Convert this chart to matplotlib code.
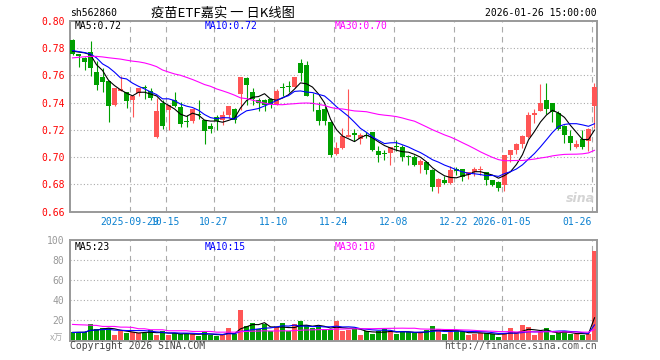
import numpy as np
import pandas as pd
import matplotlib
matplotlib.use('Agg')
import matplotlib.pyplot as plt

# daily OHLC, 2025-09-15 .. 2026-01-26 (88 sessions)
opens = [0.786, 0.7756, 0.7731, 0.7773, 0.7624, 0.7589, 0.7557, 0.7383, 0.7486, 0.7479,
         0.7423, 0.7472, 0.7512, 0.7486, 0.7148, 0.7398, 0.7349, 0.742, 0.7369, 0.7262,
         0.7268, 0.7317, 0.7273, 0.7231, 0.7293, 0.7271, 0.7312, 0.7354, 0.7464, 0.7582,
         0.7479, 0.7422, 0.7422, 0.743, 0.7383, 0.7514, 0.7521, 0.7513, 0.7692, 0.7673,
         0.7392, 0.7347, 0.7354, 0.7258, 0.7023, 0.7067, 0.7148, 0.7177, 0.7133, 0.7161,
         0.7182, 0.7045, 0.7026, 0.7033, 0.708, 0.7074, 0.7002, 0.6999, 0.694, 0.6964,
         0.6908, 0.678, 0.6833, 0.681, 0.6913, 0.6913, 0.6871, 0.6893, 0.6907, 0.6888,
         0.6832, 0.6815, 0.6797, 0.7018, 0.7055, 0.7097, 0.7145, 0.7312, 0.7342, 0.7422,
         0.7398, 0.7324, 0.7226, 0.7158, 0.7072, 0.7133, 0.7116, 0.7374]
highs = [0.787, 0.776, 0.7735, 0.7851, 0.7704, 0.7655, 0.7557, 0.751, 0.7599, 0.748,
         0.7455, 0.751, 0.7533, 0.751, 0.7432, 0.7422, 0.7385, 0.7476, 0.7405, 0.7307,
         0.7353, 0.742, 0.7275, 0.7251, 0.7307, 0.7337, 0.7375, 0.7357, 0.759, 0.7585,
         0.7508, 0.7435, 0.7425, 0.7433, 0.7501, 0.7545, 0.7557, 0.7591, 0.7722, 0.7709,
         0.7472, 0.7405, 0.7373, 0.7263, 0.7109, 0.7214, 0.75, 0.7207, 0.7177, 0.7185,
         0.7185, 0.7079, 0.7053, 0.7075, 0.7124, 0.7091, 0.7018, 0.7018, 0.6987, 0.6969,
         0.691, 0.6845, 0.6859, 0.6932, 0.6925, 0.6915, 0.6892, 0.6925, 0.6937, 0.689,
         0.6835, 0.6827, 0.7015, 0.7052, 0.71, 0.716, 0.7332, 0.7354, 0.7537, 0.7545,
         0.74, 0.7336, 0.7234, 0.7202, 0.7128, 0.7202, 0.721, 0.7545]
lows = [0.775, 0.7665, 0.7643, 0.7594, 0.7494, 0.7481, 0.7256, 0.7378, 0.7486, 0.7361,
        0.7293, 0.7452, 0.7427, 0.7422, 0.7138, 0.7209, 0.7202, 0.737, 0.7219, 0.7222,
        0.7251, 0.7283, 0.7099, 0.7178, 0.7202, 0.7239, 0.7288, 0.7253, 0.7349, 0.738,
        0.7381, 0.7337, 0.7337, 0.7361, 0.738, 0.7447, 0.7476, 0.7511, 0.7557, 0.7448,
        0.7342, 0.7239, 0.7239, 0.6999, 0.7013, 0.7062, 0.7145, 0.7116, 0.7097, 0.7141,
        0.7043, 0.6964, 0.6977, 0.6945, 0.7042, 0.6969, 0.694, 0.6937, 0.6883, 0.6878,
        0.6753, 0.6739, 0.6805, 0.6805, 0.6871, 0.6826, 0.6836, 0.6858, 0.6871, 0.6797,
        0.6785, 0.6753, 0.6753, 0.6961, 0.7023, 0.7067, 0.714, 0.7251, 0.7337, 0.7317,
        0.7258, 0.7202, 0.7103, 0.7055, 0.7067, 0.7062, 0.7048, 0.7214]
closes = [0.776, 0.774, 0.7702, 0.7658, 0.7533, 0.755, 0.7378, 0.7508, 0.7503, 0.741,
          0.7452, 0.7508, 0.751, 0.7437, 0.7342, 0.7231, 0.7381, 0.7378, 0.7244, 0.726,
          0.7351, 0.7307, 0.7195, 0.7209, 0.7263, 0.7307, 0.7373, 0.7275, 0.7587, 0.7533,
          0.743, 0.7398, 0.7381, 0.7391, 0.7486, 0.7512, 0.752, 0.7589, 0.7619, 0.7452,
          0.7391, 0.7268, 0.7263, 0.7018, 0.7067, 0.7158, 0.7165, 0.716, 0.7165, 0.716,
          0.7055, 0.7018, 0.7025, 0.7074, 0.7079, 0.7001, 0.7001, 0.6945, 0.6969, 0.6908,
          0.6783, 0.6842, 0.681, 0.6908, 0.6895, 0.6854, 0.689, 0.6915, 0.6909, 0.6829,
          0.6797, 0.6773, 0.7013, 0.705, 0.7097, 0.7158, 0.7312, 0.7324, 0.7398, 0.7354,
          0.7332, 0.7209, 0.7165, 0.7104, 0.7097, 0.7072, 0.7207, 0.7513]
# volume in 万 shares
volumes = [8, 8.3, 8.3, 16, 11.7, 12.7, 12.7, 5, 9, 7.3,
           8.3, 7.7, 7.7, 10.3, 5, 9, 5, 7.3, 6.3, 6.7,
           6.7, 4, 9, 5.7, 4, 5.7, 12, 6.3, 30, 14,
           17, 11.7, 16, 9, 13.3, 17, 9, 16, 19.3, 15,
           12, 13.3, 11, 10.7, 19.3, 9.3, 10.3, 11.7, 5, 9.7,
           6, 9, 11.7, 9, 6.3, 8.3, 8.3, 8.3, 7.7, 10,
           14, 11.7, 6.3, 8.3, 10, 9.3, 5, 6, 7.7, 7.7,
           6.3, 3.3, 7.7, 12, 8.3, 15, 13, 5, 8.3, 12,
           5, 7.7, 9, 6.3, 6.3, 5, 6, 89.3]

# moving-average values before the window fills (sessions before the chart start)
ma5_lead = [0.7778, 0.7772, 0.7766, 0.7752]
ma10_lead = [0.7783, 0.7775, 0.7768, 0.7758, 0.7729, 0.7685, 0.766, 0.7624, 0.7582]
ma30_lead = [0.7729, 0.7733, 0.7737, 0.774, 0.774, 0.7736, 0.773, 0.7725, 0.772, 0.7712,
             0.7705, 0.77, 0.7692, 0.768, 0.7665, 0.764, 0.7625, 0.7611, 0.7601, 0.7586,
             0.757, 0.7552, 0.7533, 0.752, 0.7501, 0.7487, 0.7472, 0.7455, 0.7435]
vol_ma30_lead = [16, 15.7, 15.5, 15.2, 15, 14, 14, 14, 13.3, 13.3,
                 13, 11.7, 11.7, 10.7, 10.7, 10.7, 9.7, 9.7, 9.7, 9.7,
                 9, 9, 9, 9, 8.3, 8.3, 8.3, 8.3, 8.8]

tick_pos = [10, 16, 24, 34, 44, 54, 64, 72, 87]
tick_labels = ['2025-09-29', '10-15', '10-27', '11-10', '11-24', '12-08',
               '12-22', '2026-01-05', '01-26']
price_ticks = [0.66, 0.68, 0.70, 0.72, 0.74, 0.76, 0.78, 0.80]
vol_ticks = [20, 40, 60, 80, 100]
price_ma_text = ['0.72', '0.72', '0.70']
vol_ma_text = ['23', '15', '10']

RED = '#ff5555'
GREEN = '#00a000'
GRID = '#aaaaaa'
MONO = 'DejaVu Sans Mono'
MA_COLORS = ['black', '#0000ff', '#ff00ff']


def moving_avg(values, n, lead=None):
    ma = pd.Series(values).rolling(n, min_periods=1).mean().to_numpy()
    if lead is not None:
        ma[:len(lead)] = lead
    return ma


x = np.arange(len(closes))
o = np.array(opens)
c = np.array(closes)
h = np.array(highs)
l = np.array(lows)
colors = np.where(c >= o, RED, GREEN)

fig = plt.figure(figsize=(6.6, 3.6), dpi=100)
ax = fig.add_axes([70 / 660, 1 - 211.5 / 360, 527 / 660, 190.5 / 360])
axv = fig.add_axes([70 / 660, 1 - 340.5 / 360, 527 / 660, 100.5 / 360])

for a in (ax, axv):
    a.set_xlim(-0.42, 87.42)
    for s in a.spines.values():
        s.set_color('#999999')
        s.set_linewidth(1.4)
    for p in tick_pos:
        a.axvline(p - 0.42, color=GRID, lw=0.8, ls=(0, (5, 4)), zorder=0)
    a.tick_params(length=0)

# price panel
ax.set_ylim(0.66, 0.80)
for yv in price_ticks[1:-1]:
    ax.axhline(yv, color=GRID, lw=0.8, ls=(0, (1, 2)), zorder=0)
ax.vlines(x, l, h, colors=colors, lw=0.8, zorder=2)
small = np.abs(c - o) < 0.0006
body_lo = np.where(small, (o + c) / 2 - 0.0003, np.minimum(o, c))
body_h = np.where(small, 0.0006, np.abs(c - o))
ax.bar(x, body_h, bottom=body_lo, width=0.75, color=colors, lw=0, zorder=3)

ma_lines = [moving_avg(closes, 5, ma5_lead), moving_avg(closes, 10, ma10_lead),
            moving_avg(closes, 30, ma30_lead)]
for ma, col in zip(ma_lines, MA_COLORS):
    ax.plot(x, ma, color=col, lw=0.8, zorder=4)

ax.set_yticks(price_ticks)
ax.set_yticklabels(['%.2f' % t for t in price_ticks], color='red',
                   fontsize=7, family=MONO)
ax.set_xticks([p - 0.42 for p in tick_pos])
ax.set_xticklabels(tick_labels, color='#0a80d0', fontsize=7, family=MONO)
ax.get_xticklabels()[-1].set_ha('right')
ax.tick_params(axis='y', pad=4)
ax.tick_params(axis='x', pad=4)

for i, (name, val) in enumerate(zip(['MA5', 'MA10', 'MA30'], price_ma_text)):
    ax.text([0.0095, 0.256, 0.502][i], 0.972, '%s:%s' % (name, val),
            transform=ax.transAxes, color=MA_COLORS[i], fontsize=7,
            family=MONO, va='center', ha='left', zorder=5)

ax.text(0.968, 0.07, 'sina', transform=ax.transAxes, color='#d4d4d4',
        fontsize=9, style='italic', weight='bold', ha='center', va='center',
        zorder=1)

# volume panel
axv.set_ylim(0, 100)
for yv in vol_ticks[:-1]:
    axv.axhline(yv, color=GRID, lw=0.8, ls=(0, (1, 2)), zorder=0)
axv.bar(x, volumes, width=0.8, color=colors, lw=0, zorder=2)
vol_lines = [moving_avg(volumes, 5), moving_avg(volumes, 10),
             moving_avg(volumes, 30, vol_ma30_lead)]
for ma, col in zip(vol_lines, MA_COLORS):
    axv.plot(x, ma, color=col, lw=0.8, zorder=3)
axv.set_yticks(vol_ticks)
axv.set_yticklabels([str(t) for t in vol_ticks], color='#999999',
                    fontsize=7, family=MONO)
axv.tick_params(axis='y', pad=4)
axv.set_xticks([])
axv.text(-0.012, 0.02, 'x万', transform=axv.transAxes, color='#aaaaaa',
         fontsize=6.5, family=['Noto Sans CJK SC', 'DejaVu Sans'],
         ha='right', va='center')
for i, (name, val) in enumerate(zip(['MA5', 'MA10', 'MA30'], vol_ma_text)):
    axv.text([0.0095, 0.256, 0.502][i], 0.935, '%s:%s' % (name, val),
             transform=axv.transAxes, color=MA_COLORS[i], fontsize=7,
             family=MONO, va='center', ha='left', zorder=5)

# header and footer
fig.text(70 / 660, 1 - 13 / 360, 'sh562860', fontsize=7, family=MONO,
         ha='left', va='center')
fig.text(223 / 660, 1 - 13 / 360, '疫苗ETF嘉实 一 日K线图', fontsize=9.5,
         family=['Noto Sans CJK SC', 'DejaVu Sans'], ha='center', va='center')
fig.text(597 / 660, 1 - 13 / 360, '2026-01-26 15:00:00', fontsize=7,
         family=MONO, ha='right', va='center')
fig.text(70 / 660, 1 - 346 / 360, 'Copyright 2026 SINA.COM', fontsize=7,
         family=MONO, color='#444444', ha='left', va='center')
fig.text(597 / 660, 1 - 346 / 360, 'http://finance.sina.com.cn', fontsize=7,
         family=MONO, color='#555555', ha='right', va='center')

fig.savefig('out.png', dpi=100)
